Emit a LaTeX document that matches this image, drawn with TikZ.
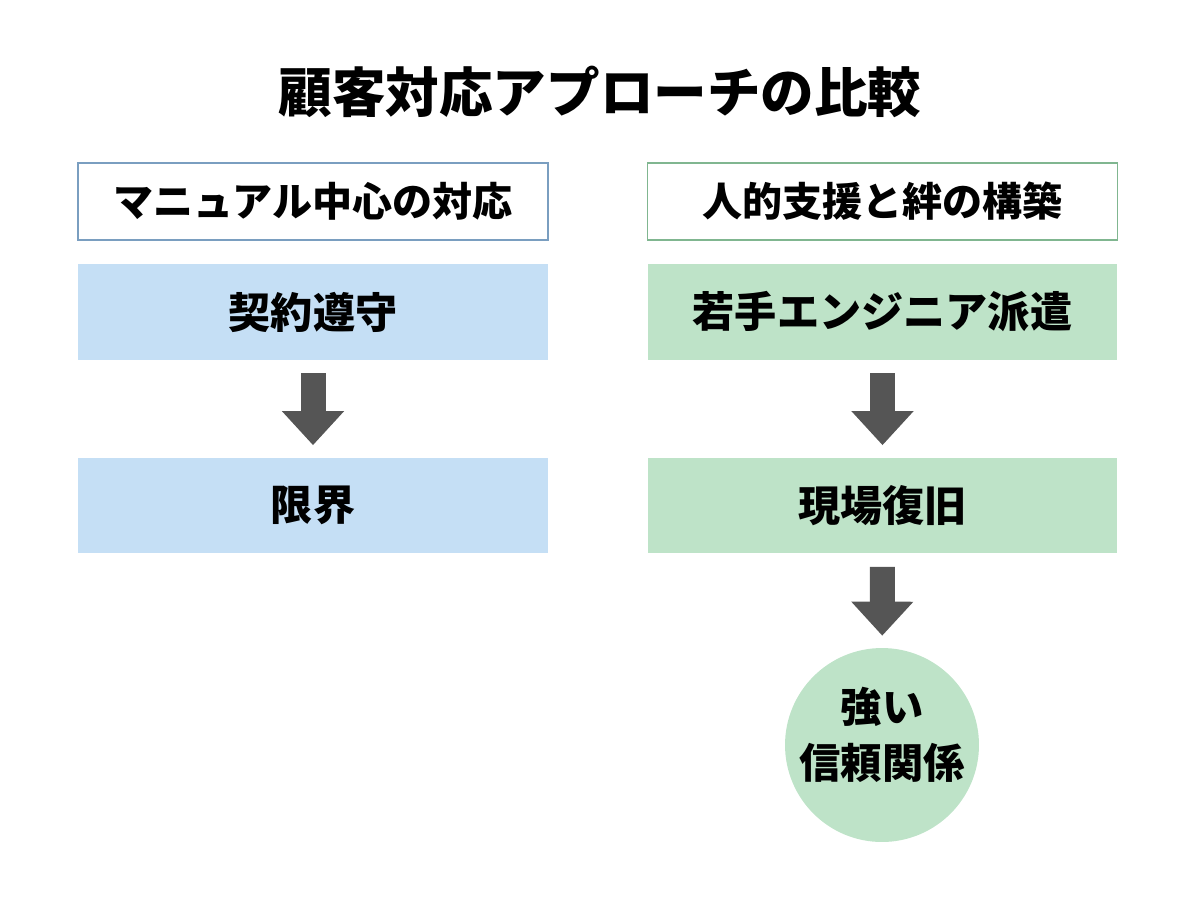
\documentclass[tikz,border=0pt]{standalone}
\usepackage{fontspec}
\setmainfont{Noto Sans CJK JP}
\usepackage{xcolor}
\usepackage{tikz}
\usetikzlibrary{arrows.meta,positioning}
\definecolor{blueline}{HTML}{7A9EC0}
\definecolor{bluefill}{HTML}{C5DFF5}
\definecolor{greenline}{HTML}{80B690}
\definecolor{greenfill}{HTML}{BEE3C8}
\definecolor{arrowgray}{HTML}{555555}

\begin{document}
\begin{tikzpicture}[x=0.02cm,y=-0.02cm,
headbox/.style={draw,line width=0.8pt,fill=white,minimum width=9.4cm,minimum height=1.54cm,inner sep=0pt,font=\fontsize{22.8}{26}\selectfont\bfseries},
stagebox/.style={minimum width=9.4cm,minimum height=1.92cm,inner sep=0pt,font=\fontsize{24}{28}\selectfont\bfseries},
flow/.style={arrowgray,line width=0.5cm,-{Triangle[length=0.68cm,width=1.2cm]},shorten <=0.26cm,shorten >=0.24cm}]
\useasboundingbox (0,0) rectangle (1200,896);
%\fill[white](0,0) rectangle (1200,896);
\node[font=\fontsize{30.5}{34}\selectfont\bfseries] (title) at (600,92) {顧客対応アプローチの比較};
\node[headbox,draw=blueline] (lhead) at (313,201.5) {マニュアル中心の対応};
\node[headbox,draw=greenline] (rhead) at (882.5,201.5) {人的支援と絆の構築};
\node[stagebox,fill=bluefill] (keiyaku) at (313,312) {契約遵守};
\node[stagebox,fill=bluefill] (genkai) at (313,505.5) {限界};
\node[stagebox,fill=greenfill] (haken) at (882.5,312) {若手エンジニア派遣};
\node[stagebox,fill=greenfill] (fukkyu) at (882.5,505.5) {現場復旧};
\node[circle,fill=greenfill,minimum size=3.88cm,inner sep=0pt] (shinrai) at (882,745) {};
\node[align=center,font=\fontsize{23.5}{32}\selectfont\bfseries] (shinraitext) at ([yshift=0.2cm]shinrai.center) {強い\\信頼関係};
\draw[flow](keiyaku)--(genkai);
\draw[flow](haken)--(fukkyu);
\draw[flow](fukkyu)--(shinrai);
\end{tikzpicture}
\end{document}
